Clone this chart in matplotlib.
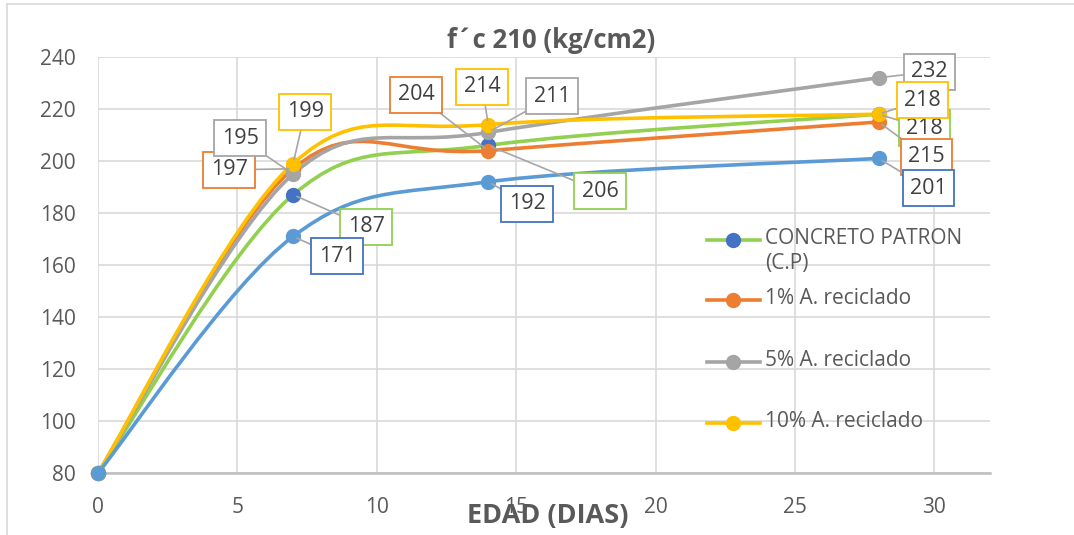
"""
f'c 210 (kg/cm2) strength vs. age chart, Excel-style smoothed lines.
"""
import numpy as np
import matplotlib
matplotlib.use("Agg")
import matplotlib.pyplot as plt
from matplotlib.path import Path
from matplotlib.patches import PathPatch
from matplotlib.lines import Line2D

plt.rcParams["font.family"] = ["Open Sans", "DejaVu Sans"]

# data
dias = [0, 7, 14, 28]
patron = [80, 187, 206, 218]
rec_1 = [80, 197, 204, 215]
rec_5 = [80, 195, 211, 232]
rec_10 = [80, 199, 214, 218]
extra = [80, 171, 192, 201]

x_ticks = [0, 5, 10, 15, 20, 25, 30]
y_ticks = [80, 100, 120, 140, 160, 180, 200, 220, 240]

# (values, line colour, marker colour, label box colour, label offsets in px, legend label)
series = [
    (patron, "#92D050", "#4472C4", "#92D050",
     [None, (73, -32), (112, -46), (46, -14)], "CONCRETO PATRON\n(C.P)"),
    (rec_1, "#ED7D31", "#ED7D31", "#ED7D31",
     [None, (-64, -1), (-72, 56), (48, -35)], "1% A. reciclado"),
    (rec_5, "#A5A5A5", "#A5A5A5", "#A5A5A5",
     [None, (-53, 36), (64, 36), (51, 6)], "5% A. reciclado"),
    (rec_10, "#FFC000", "#FFC000", "#FFC000",
     [None, (12, 52), (-6, 38), (44, 14)], "10% A. reciclado"),
    (extra, "#5B9BD5", "#5B9BD5", "#4472C4",
     [None, (44, -20), (39, -22), (50, -30)], None),
]

W, H = 1074, 535
fig = plt.figure(figsize=(W / 100, H / 100), dpi=100)
ax = fig.add_axes([98 / W, 1 - 473 / H, (990 - 98) / W, (473 - 57) / H])


def smooth_path(xs, ys):
    # Bezier segments through the points, Excel-like smoothing (tension 1/6)
    pts = np.column_stack([xs, ys]).astype(float)
    n = len(pts)
    verts = [pts[0]]
    codes = [Path.MOVETO]
    for i in range(n - 1):
        p_prev = pts[max(i - 1, 0)]
        p0, p1 = pts[i], pts[i + 1]
        p_next = pts[min(i + 2, n - 1)]
        c1 = p0 + (p1 - p_prev) / 6
        c2 = p1 - (p_next - p0) / 6
        verts += [c1, c2, p1]
        codes += [Path.CURVE4] * 3
    return Path(verts, codes)


for vals, lc, mc, bc, offs, lab in series:
    ax.add_patch(PathPatch(smooth_path(dias, vals), fill=False, edgecolor=lc,
                           lw=2.6, capstyle="round", zorder=3, clip_on=False))
    ax.plot(dias, vals, ls="none", marker="o", ms=10, color=mc, zorder=4,
            clip_on=False)

# data labels drawn after all lines so boxes sit on top
for vals, lc, mc, bc, offs, lab in series:
    for xv, yv, off in zip(dias, vals, offs):
        if off is None:
            continue
        ax.annotate(str(yv), xy=(xv, yv), xytext=off, textcoords="offset pixels",
                    ha="center", va="center", fontsize=15.5, color="#404040",
                    bbox=dict(boxstyle="square,pad=0.35", fc="white", ec=bc, lw=1.3),
                    arrowprops=dict(arrowstyle="-", color="#A6A6A6", lw=1.2,
                                    shrinkA=0, shrinkB=3),
                    zorder=6, annotation_clip=False)

ax.set_xlim(0, 32)
ax.set_ylim(80, 240)
ax.set_xticks(x_ticks)
ax.set_yticks(y_ticks)
ax.tick_params(length=0, labelsize=15, colors="#595959")
ax.tick_params(axis="x", pad=17)
ax.tick_params(axis="y", pad=16)
ax.grid(True, color="#D9D9D9", lw=1.2)
ax.set_axisbelow(True)
for s in ["top", "right", "left"]:
    ax.spines[s].set_visible(False)
ax.spines["bottom"].set_color("#BFBFBF")
ax.spines["bottom"].set_linewidth(1.8)

fig.text(551 / W, 1 - 40 / H, "f´c 210 (kg/cm2)", ha="center", va="center",
         fontsize=18.5, fontweight="bold", color="#595959")
fig.text(548 / W, 1 - 516 / H, "EDAD (DIAS)", ha="center", va="center",
         fontsize=19.5, fontweight="bold", color="#595959")

# legend, only four entries in the original
leg_y = [240, 300, 362, 423]
for (vals, lc, mc, bc, offs, lab), yy in zip(series[:4], leg_y):
    fy = 1 - yy / H
    fig.add_artist(Line2D([707 / W, 760 / W], [fy, fy], color=lc, lw=2.6))
    fig.add_artist(Line2D([733 / W], [fy], marker="o", ms=10, color=mc))
    fig.text(765 / W, fy + 12 / H, lab, ha="left", va="top", fontsize=15,
             color="#595959", linespacing=1.25)

# chart area border (cropped on the right and bottom)
fig.add_artist(Line2D([7 / W, 1], [1 - 4 / H, 1 - 4 / H], color="#D9D9D9", lw=1.2))
fig.add_artist(Line2D([7 / W, 7 / W], [0, 1 - 4 / H], color="#D9D9D9", lw=1.2))

fig.savefig("out.png", dpi=100)
